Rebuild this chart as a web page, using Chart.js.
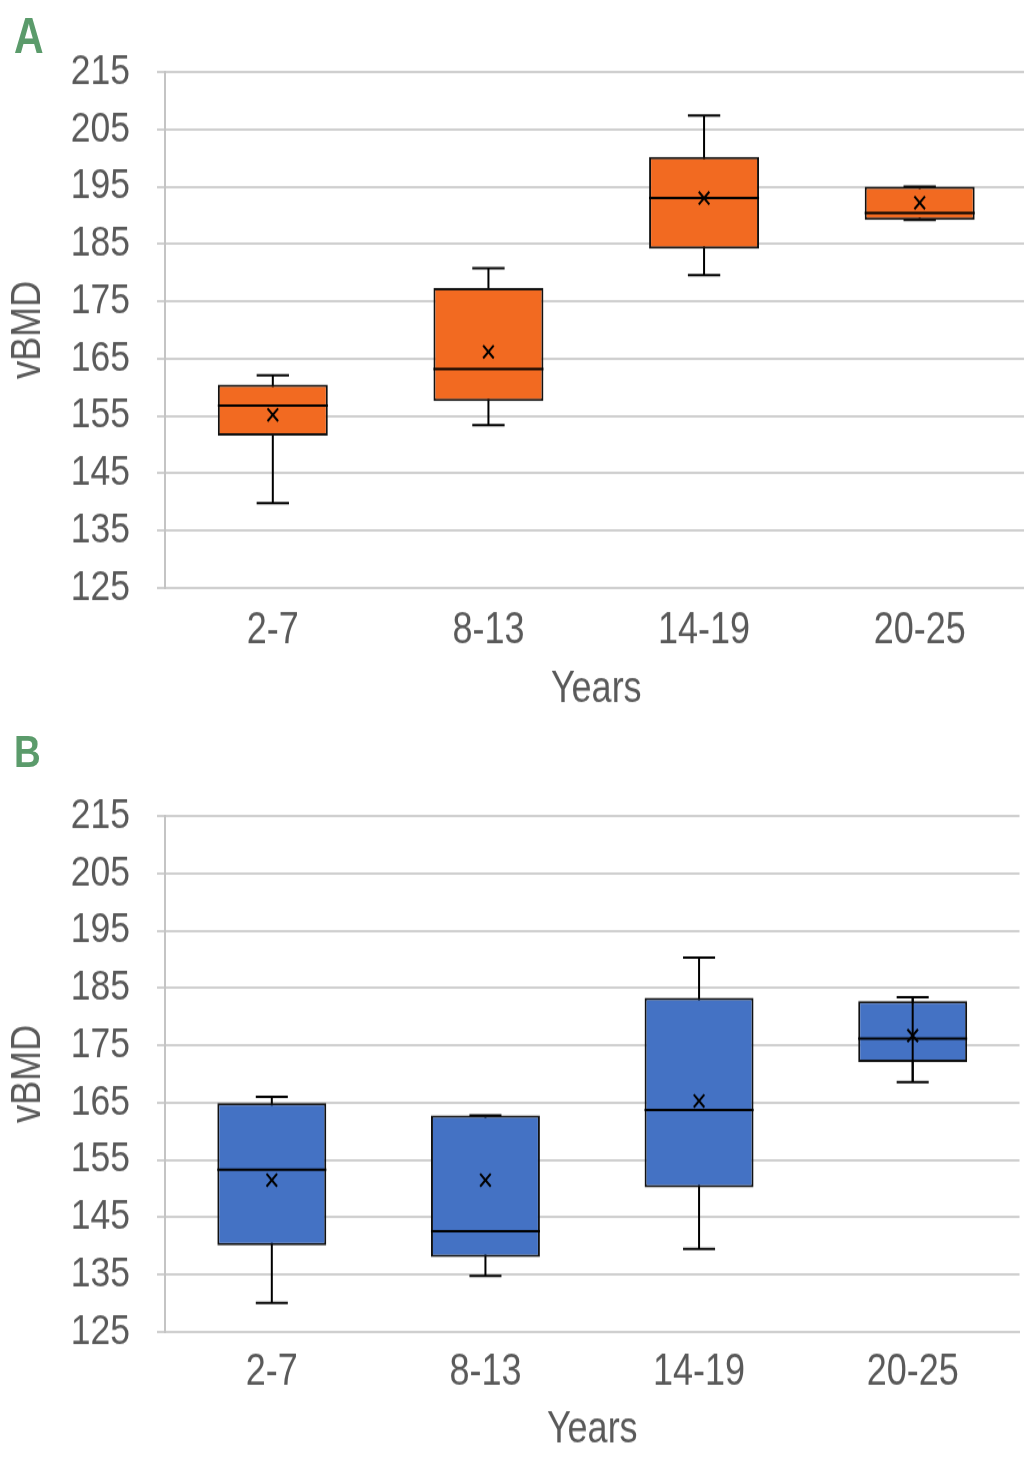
<!DOCTYPE html>
<html>
<head>
<meta charset="utf-8">
<script src="https://cdn.jsdelivr.net/npm/chart.js@4.4.1/dist/chart.umd.min.js"></script>
<style>
  html, body { margin:0; padding:0; background:#fff; }
  body { width:1024px; height:1461px; overflow:hidden; position:relative; }
  #wrap { position:absolute; left:0; top:0; width:1040px; height:1218px; transform:scaleY(1.2); transform-origin:0 0; }
  .panel { position:absolute; left:0; }
  .letter { position:absolute; left:14px; color:#5B9B6B; font-weight:bold; line-height:1;
            font-family:'Liberation Sans',Arial,sans-serif; z-index:2; }
</style>
</head>
<body>
<div id="wrap">
  <div class="letter" style="top:9.5px;font-size:41px;">A</div>
  <div class="letter" style="top:608px;font-size:37px;">B</div>
  <div class="panel" style="top:0;width:1037px;height:600px;"><canvas id="chartA"></canvas></div>
  <div class="panel" style="top:600px;width:1029px;height:617px;"><canvas id="chartB"></canvas></div>
</div>
<script>
// ---- data ----
const categories = ['2-7', '8-13', '14-19', '20-25'];
const yTicks = [125, 135, 145, 155, 165, 175, 185, 195, 205, 215];

// Panel A
const aMin    = [139.8, 153.4, 179.6, 189.2];
const aQ1     = [151.6, 157.6, 184.2, 189.2];
const aMedian = [156.8, 163.2, 193.0, 190.4];
const aQ3     = [160.5, 177.3, 200.2, 195.0];
const aMax    = [162.1, 180.8, 207.4, 195.0];
const aMean   = [155.2, 166.2, 193.0, 192.2];

// Panel B
const bMin    = [130.1, 134.8, 139.5, 168.6];
const bQ1     = [140.1, 138.1, 150.2, 172.1];
const bMedian = [153.3, 142.6, 163.7, 176.2];
const bQ3     = [164.9, 162.8, 183.3, 182.7];
const bMax    = [166.0, 162.8, 190.3, 183.4];
const bMean   = [151.5, 151.5, 165.3, 176.7];

const yTitle = 'vBMD';
const xTitle = 'Years';

// ---- rendering ----
const FONT = "'Liberation Sans',Arial,sans-serif";
const TEXT = '#595959';
const GRID = '#cfcfcf';
const LW = 2;

const boxExtras = {
  id: 'boxExtras',
  beforeDatasetsDraw(chart) {
    const o = chart.config.options.plugins.boxExtras;
    const x = chart.scales.x, y = chart.scales.y, ctx = chart.ctx;
    const cw = x.getPixelForValue(1) - x.getPixelForValue(0);
    ctx.save();
    ctx.strokeStyle = '#000';
    ctx.lineWidth = LW;
    for (let i = 0; i < o.min.length; i++) {
      const cx = x.getPixelForValue(i);
      const yMin = y.getPixelForValue(o.min[i]);
      const yMax = y.getPixelForValue(o.max[i]);
      const hw = cw * 0.075;
      ctx.beginPath();
      ctx.moveTo(cx, yMin); ctx.lineTo(cx, yMax);
      ctx.moveTo(cx - hw, yMin); ctx.lineTo(cx + hw, yMin);
      ctx.moveTo(cx - hw, yMax); ctx.lineTo(cx + hw, yMax);
      ctx.stroke();
    }
    ctx.restore();
  },
  afterDatasetsDraw(chart) {
    const o = chart.config.options.plugins.boxExtras;
    const x = chart.scales.x, y = chart.scales.y, ctx = chart.ctx;
    const meta = chart.getDatasetMeta(0);
    ctx.save();
    ctx.strokeStyle = '#000';
    ctx.lineWidth = LW;
    for (let i = 0; i < o.median.length; i++) {
      const bar = meta.data[i];
      const hw = bar.width / 2;
      const cx = bar.x;
      const ym = y.getPixelForValue(o.median[i]);
      ctx.beginPath();
      ctx.moveTo(cx - hw, ym); ctx.lineTo(cx + hw, ym);
      ctx.stroke();
      if (o.stemOver.includes(i)) {
        const rx = x.getPixelForValue(i);
        ctx.beginPath();
        ctx.moveTo(rx, y.getPixelForValue(o.min[i]));
        ctx.lineTo(rx, y.getPixelForValue(o.max[i]));
        ctx.stroke();
      }
    }
    ctx.restore();
  },
  afterDraw(chart) {
    // rotated y-axis title, condensed along its length
    const ctx = chart.ctx, ca = chart.chartArea;
    ctx.save();
    ctx.translate(28, (ca.top + ca.bottom) / 2);
    ctx.rotate(-Math.PI / 2);
    ctx.scale(0.715, 1);
    ctx.font = '42px ' + FONT;
    ctx.fillStyle = TEXT;
    ctx.textAlign = 'center';
    ctx.textBaseline = 'middle';
    ctx.fillText(yTitle, 0, 0);
    ctx.restore();
  }
};

function makeChart(id, q1, q3, med, mn, mx, mean, color, cfg) {
  return new Chart(document.getElementById(id), {
    type: 'bar',
    data: {
      labels: categories,
      datasets: [
        {
          type: 'bar',
          data: categories.map((_, i) => [q1[i], q3[i]]),
          backgroundColor: color,
          borderColor: '#111',
          borderWidth: LW,
          borderSkipped: false,
          barPercentage: 0.51,
          categoryPercentage: 1,
          order: 2
        },
        {
          type: 'line',
          data: mean,
          showLine: false,
          pointStyle: 'crossRot',
          pointRadius: 7.5,
          pointBorderWidth: LW,
          pointBorderColor: '#000',
          pointBackgroundColor: '#000',
          order: 1
        }
      ]
    },
    options: {
      responsive: true,
      maintainAspectRatio: false,
      animation: false,
      layout: { padding: { top: cfg.padTop, bottom: 0, left: 0, right: 0 } },
      plugins: {
        legend: { display: false },
        tooltip: { enabled: false },
        boxExtras: { min: mn, max: mx, median: med, stemOver: cfg.stemOver }
      },
      scales: {
        x: {
          offset: true,
          afterFit: (s) => { s.height = cfg.xHeight; },
          grid: { display: false, drawTicks: false },
          border: { display: true, color: GRID, width: LW },
          ticks: { color: TEXT, font: { family: FONT, size: 36 }, padding: cfg.xPad, maxRotation: 0 },
          title: { display: true, text: xTitle, color: TEXT, font: { family: FONT, size: 36 }, padding: { top: 0, bottom: cfg.titlePad } }
        },
        y: {
          min: yTicks[0],
          max: yTicks[yTicks.length - 1],
          afterBuildTicks: (s) => { s.ticks = yTicks.map(v => ({ value: v })); },
          afterFit: (s) => { s.width = 165; },
          grid: { color: GRID, lineWidth: LW, tickLength: 8, drawTicks: true },
          border: { display: true, color: '#c4c4c4', width: LW },
          ticks: { color: TEXT, font: { family: FONT, size: 35.5 }, padding: 27 },
          title: { display: false }
        }
      }
    },
    plugins: [boxExtras]
  });
}

makeChart('chartA', aQ1, aQ3, aMedian, aMin, aMax, aMean, '#F26A21',
  { padTop: 60, xHeight: 110, xPad: 14, titlePad: 3, stemOver: [] });
makeChart('chartB', bQ1, bQ3, bMedian, bMin, bMax, bMean, '#4472C4',
  { padTop: 80, xHeight: 107, xPad: 12.5, titlePad: 3, stemOver: [3] });
</script>
</body>
</html>
